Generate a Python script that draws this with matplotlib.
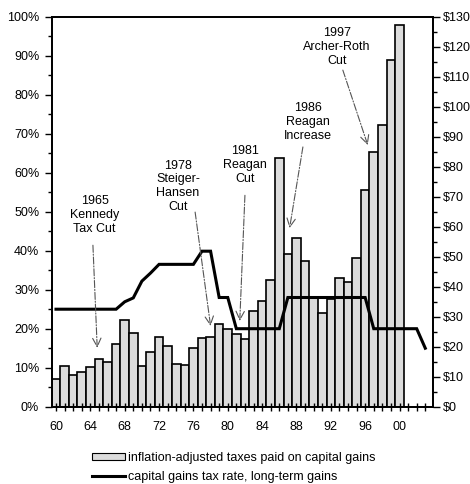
import matplotlib
matplotlib.use('Agg')
import matplotlib.pyplot as plt
from matplotlib.ticker import FixedLocator, MultipleLocator, FuncFormatter
from matplotlib.patches import Patch
from matplotlib.lines import Line2D

plt.rcParams['font.family'] = ['Liberation Sans', 'DejaVu Sans']
plt.rcParams['font.size'] = 9

# inflation-adjusted taxes paid on capital gains, $ billions (right axis)
tax_years = list(range(60, 101))
taxes_paid = [9.3, 13.6, 10.6, 11.6, 13.1, 15.8, 14.9, 20.8, 29.0, 24.5,
              13.6, 18.3, 23.1, 20.2, 14.2, 13.8, 19.5, 22.8, 23.3, 27.5,
              25.8, 24.1, 22.5, 32.0, 35.2, 42.3, 83.0, 50.9, 56.3, 48.7,
              36.2, 31.3, 35.8, 43.0, 41.7, 49.7, 72.4, 85.0, 94.0, 115.5,
              127.2]

# top capital gains tax rate, long-term gains, % (left axis)
rate_years = list(range(60, 104))
rate_pct = [25, 25, 25, 25, 25, 25, 25, 25, 26.9, 27.9,
            32.2, 34.25, 36.5, 36.5, 36.5, 36.5, 36.5, 39.875, 39.875, 28,
            28, 20, 20, 20, 20, 20, 20, 28, 28, 28,
            28, 28, 28, 28, 28, 28, 28, 20, 20, 20,
            20, 20, 20, 15]

# (label, text position, arrow start, arrow tip) in (year, %)
events = [
    ("1965\nKennedy\nTax Cut", (64.5, 49.1), (64.3, 41.4), (64.8, 15.1)),
    ("1978\nSteiger-\nHansen\nCut", (74.2, 56.5), (76.2, 49.9), (78.0, 20.7)),
    ("1981\nReagan\nCut", (82.0, 62.0), (82.0, 54.2), (81.4, 22.0)),
    ("1986\nReagan\nIncrease", (89.3, 73.0), (88.75, 66.6), (87.2, 45.8)),
    ("1997\nArcher-Roth\nCut", (92.7, 92.2), (93.4, 86.3), (96.3, 67.1)),
]

fig = plt.figure(figsize=(4.7, 4.84), dpi=100)
ax = fig.add_axes([0.110, 0.1597, 0.8113, 0.8058])
ax2 = ax.twinx()

ax2.bar(tax_years, taxes_paid, width=1.0, color='#dcdcdc',
        edgecolor='black', linewidth=1.2)
ax2.set_ylim(0, 130)

ax.set_zorder(ax2.get_zorder() + 1)
ax.patch.set_visible(False)
ax.plot(rate_years, rate_pct, color='black', lw=2.2, solid_joinstyle='miter')
ax.set_ylim(0, 100)
ax.set_xlim(59.5, 103.9)

for label, txt, start, tip in events:
    ax.text(txt[0], txt[1], label, ha='center', va='center',
            multialignment='center', fontsize=9)
    ax.annotate('', xy=tip, xytext=start,
                arrowprops=dict(arrowstyle='->', color='#555555', lw=0.8,
                                linestyle='-.', mutation_scale=15,
                                shrinkA=0, shrinkB=0))

# x axis: every year ticked, labels every 4 years
ax.xaxis.set_major_locator(FixedLocator(list(range(60, 101, 4))))
ax.xaxis.set_minor_locator(FixedLocator(list(range(60, 104))))
ax.xaxis.set_major_formatter(FuncFormatter(lambda v, p: '%02d' % (int(v) % 100)))
ax.tick_params(axis='x', which='both', direction='inout', length=6,
               width=1, pad=7.5)

ax.yaxis.set_major_locator(MultipleLocator(10))
ax.yaxis.set_minor_locator(MultipleLocator(5))
ax.yaxis.set_major_formatter(FuncFormatter(lambda v, p: '%d%%' % v))
ax.tick_params(axis='y', which='major', length=5, width=1, pad=4)
ax.tick_params(axis='y', which='minor', length=3, width=1)

ax2.yaxis.set_major_locator(MultipleLocator(10))
ax2.yaxis.set_minor_locator(MultipleLocator(5))
ax2.yaxis.set_major_formatter(FuncFormatter(lambda v, p: '$%d' % v))
ax2.tick_params(axis='y', which='major', length=5, width=1, pad=2)
ax2.tick_params(axis='y', which='minor', length=3, width=1)

for a in (ax, ax2):
    for s in a.spines.values():
        s.set_linewidth(1.3)

handles = [Patch(facecolor='#dcdcdc', edgecolor='black', linewidth=0.8),
           Line2D([], [], color='black', lw=2.2)]
labels = ['inflation-adjusted taxes paid on capital gains',
          'capital gains tax rate, long-term gains']
fig.legend(handles, labels, loc='upper left',
           bbox_to_anchor=(92 / 470, 1 - 452 / 484), frameon=False,
           borderpad=0, borderaxespad=0, handlelength=2.6,
           handleheight=0.5, handletextpad=0.3, labelspacing=0.55,
           fontsize=9)

fig.savefig('out.png', dpi=100)
